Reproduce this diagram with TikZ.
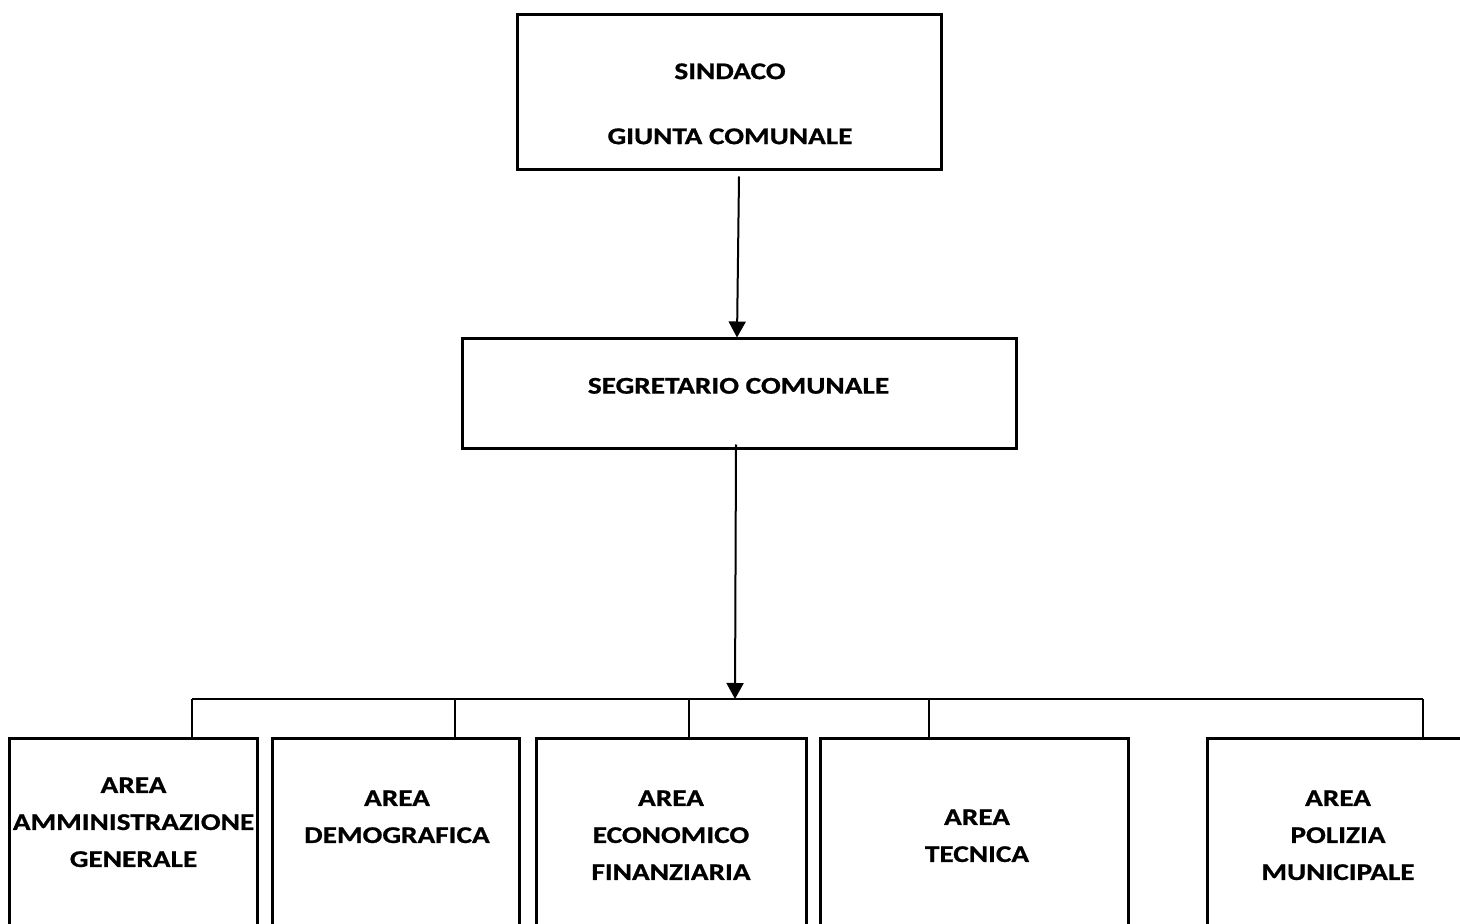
\documentclass[tikz,border=0pt]{standalone}
\usepackage{fontspec}
\setmainfont{Carlito}[FakeStretch=1.22,BoldFeatures={FakeBold=0.8}]
\usetikzlibrary{arrows.meta}
\tikzset{
	frame/.style={draw,line width=1.5pt,inner sep=0,minimum width=#1},
	label text/.style={font=\fontsize{12}{18.5}\selectfont\bfseries,align=center,inner sep=0,anchor=north},
	arr/.style={line width=1pt,-{Triangle[width=8.5pt,length=8pt]}},
	bus/.style={line width=1.2pt}
}
\begin{document}
\begin{tikzpicture}[x=0.5pt,y=-0.5pt]
	\useasboundingbox (0,0) rectangle (1460,924);
	% top levels
	\node[frame=212pt,minimum height=77.5pt] (sindaco) at (729,92.5) {};
	\node[label text] (sindacoT) at (730,63) {SINDACO\\[14pt]GIUNTA COMUNALE};
	\node[frame=277pt,minimum height=55pt] (segretario) at (739,394) {};
	\node[label text] (segretarioT) at (738.5,377.5) {SEGRETARIO COMUNALE};
	\draw[arr] ([shift={(10,5)}]sindaco.south) -- ([xshift=-1pt]segretario.north);
	\coordinate (hub) at (735,699);
	\draw[arr] ([shift={(-3,-6)}]segretario.south) -- (hub);
	
	% areas, open at the bottom
	\foreach \i/\cx/\w/\tx/\ty/\txt in {
		1/133.5/122.5pt/133.5/777/{AREA\\AMMINISTRAZIONE\\GENERALE},
		2/396/122pt/397/790/{AREA\\DEMOGRAFICA},
		3/671.5/133.5pt/671/790/{AREA\\ECONOMICO\\FINANZIARIA},
		4/974.5/152.5pt/977/809/{AREA\\TECNICA},
		5/1344.5/135.5pt/1338/790/{AREA\\POLIZIA\\MUNICIPALE}}{
		\node[frame=\w,draw=none,minimum height=97.5pt] (a\i) at (\cx,837.5) {};
		\draw[line width=1.5pt] (a\i.south west) |- (a\i.north east) -- (a\i.south east);
		\node[label text] (a\i T) at (\tx,\ty) {\txt};
	}
	
	% bus to the areas
	\coordinate (busL) at (192,699);
	\coordinate (busR) at (1423,699);
	\draw[bus] (busL) -- (busR);
	\foreach \i/\tx in {1/192,2/455,3/689,4/929,5/1423}{
		\coordinate (t\i) at (\tx,699);
		\draw[bus] (t\i) -- (t\i |- a\i.north);
	}
\end{tikzpicture}
\end{document}
